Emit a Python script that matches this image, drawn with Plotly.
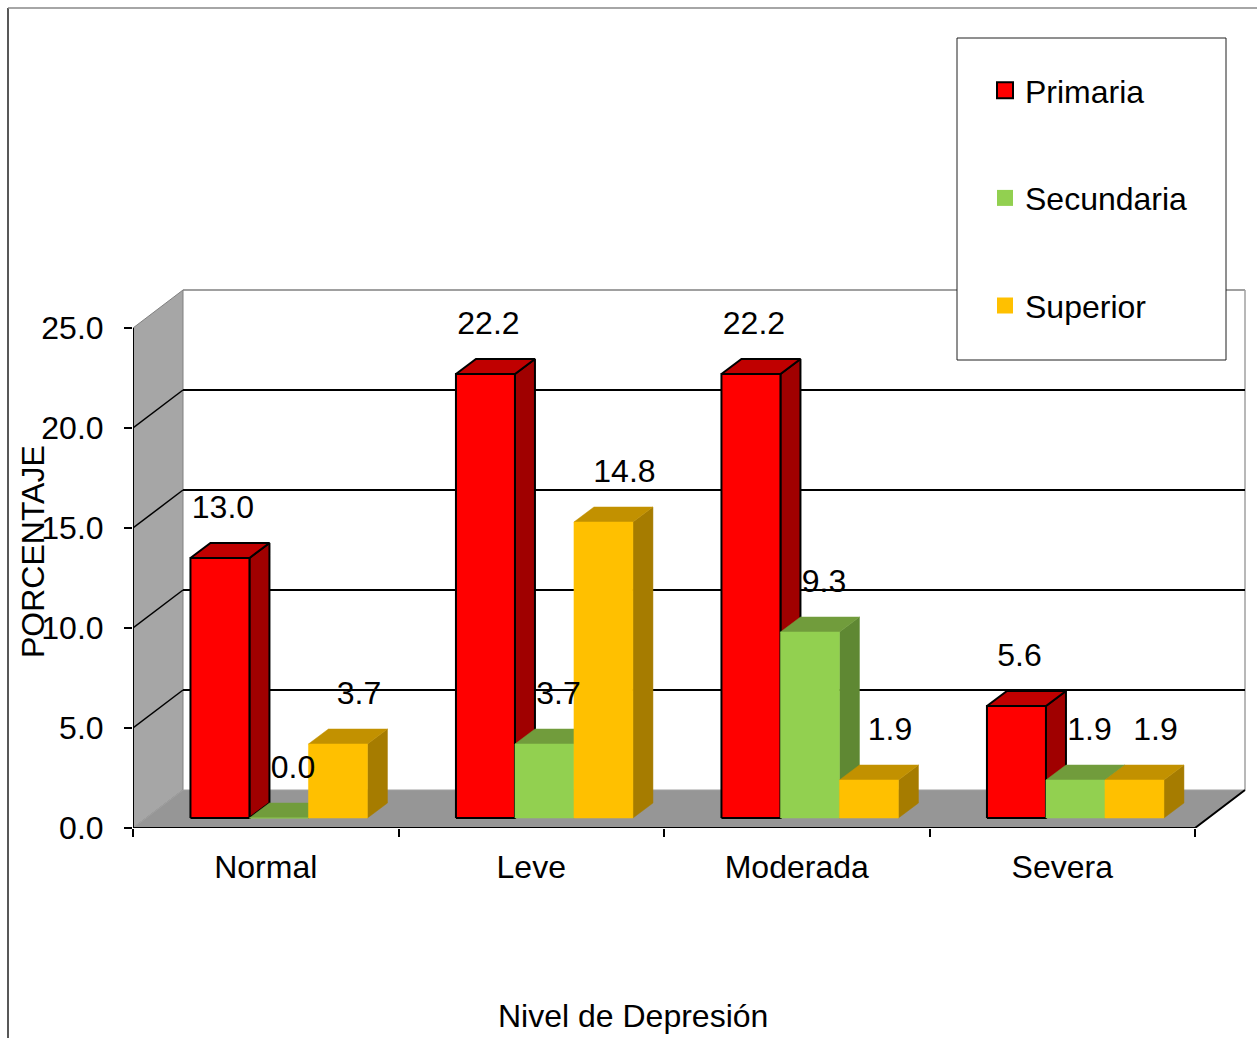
import plotly.graph_objects as go

# ---- data -------------------------------------------------------------
categories = ["Normal", "Leve", "Moderada", "Severa"]
series_names = ["Primaria", "Secundaria", "Superior"]
primaria = [13.0, 22.2, 22.2, 5.6]
secundaria = [0.0, 3.7, 9.3, 1.9]
superior = [3.7, 14.8, 1.9, 1.9]
y_ticks = [0, 5, 10, 15, 20, 25]

values_by_series = [primaria, secundaria, superior]

# ---- styles -----------------------------------------------------------
FONT = "Liberation Sans, Arial, sans-serif"
FS = 32
face_colors = [
    # front, top, side, outline colour, outline width
    ("#FF0000", "#C00000", "#A00000", "#000000", 2.0),
    ("#92D050", "#719C3C", "#5F8833", None, 0.0),
    ("#FFC000", "#C29100", "#A67C00", None, 0.0),
]
label_dx_px = [3, 14, 21]   # horizontal nudge of value labels
label_dy_px = 48            # value labels sit this far above the front top edge

# ---- projection constants (pixels -> axis units) ----------------------
W, H = 1257, 1038
ML, MB = 133, 210
PX_CAT = 265.5      # pixels per category
PX_VAL = 20.0       # pixels per percentage point
plot_w = W - ML
plot_h = H - MB

WALL_DX, WALL_DY = 50 / PX_CAT, 38 / PX_VAL      # depth of the 3-D box
BAR_OX, BAR_OY = 13.2 / PX_CAT, 10 / PX_VAL      # bars sit slightly behind the front plane
BAR_DX, BAR_DY = 20 / PX_CAT, 15 / PX_VAL        # depth of each bar
BAR_W = 59 / PX_CAT
X0, X1 = -0.5, len(categories) - 0.5
YMAX = y_ticks[-1]


def px_x(px):
    return (px - ML) / plot_w


def px_y(py):
    return 1 - py / plot_h


def path(pts):
    return "M " + " L ".join(f"{x:.5f},{y:.5f}" for x, y in pts) + " Z"


fig = go.Figure()

# ---- bars: side, top and front faces of every box ---------------------
for s, vals in enumerate(values_by_series):
    front, top, side = ([], []), ([], []), ([], [])
    for i, v in enumerate(vals):
        left = i + BAR_OX + (s - 1.5) * BAR_W
        right = left + BAR_W
        b, t = BAR_OY, BAR_OY + v
        front[0].extend([left, right, right, left, left, None])
        front[1].extend([b, b, t, t, b, None])
        side[0].extend([right, right + BAR_DX, right + BAR_DX, right, right, None])
        side[1].extend([b, b + BAR_DY, t + BAR_DY, t, b, None])
        top[0].extend([left, right, right + BAR_DX, left + BAR_DX, left, None])
        top[1].extend([t, t, t + BAR_DY, t + BAR_DY, t, None])
    fc, tc, sc, oc, ow = face_colors[s]
    for (xs, ys), col in ((side, sc), (top, tc), (front, fc)):
        fig.add_trace(go.Scatter(
            x=xs, y=ys, mode="lines", fill="toself", fillcolor=col,
            line=dict(color=oc if oc else col, width=ow if ow else 0.5),
            hoverinfo="skip", showlegend=False,
        ))

# ---- value labels -----------------------------------------------------
for s, vals in enumerate(values_by_series):
    fig.add_trace(go.Scatter(
        x=[i + BAR_OX + (s - 1) * BAR_W + label_dx_px[s] / PX_CAT for i in range(len(vals))],
        y=[BAR_OY + v + label_dy_px / PX_VAL for v in vals],
        text=[f"{v:.1f}" for v in vals],
        mode="text", textposition="middle center",
        textfont=dict(family=FONT, size=FS, color="black"),
        hoverinfo="skip", showlegend=False,
    ))

# ---- legend entries ---------------------------------------------------
for s, name in enumerate(series_names):
    fc, tc, sc, oc, ow = face_colors[s]
    fig.add_trace(go.Scatter(
        x=[None], y=[None], mode="markers", name=name, legendgroup=name,
        marker=dict(symbol="square", size=16, color=fc,
                    line=dict(color=oc if oc else fc, width=ow)),
    ))

# ---- 3-D box: walls, floor, grid --------------------------------------
shapes = []
# side wall
shapes.append(dict(type="path", layer="below", xref="x", yref="y",
                   path=path([(X0, 0), (X0 + WALL_DX, WALL_DY), (X0 + WALL_DX, YMAX + WALL_DY), (X0, YMAX)]),
                   fillcolor="#A6A6A6", line=dict(color="#808080", width=1)))
# floor
shapes.append(dict(type="path", layer="below", xref="x", yref="y",
                   path=path([(X0, 0), (X0 + WALL_DX, WALL_DY), (X1 + WALL_DX, WALL_DY), (X1, 0)]),
                   fillcolor="#969696", line=dict(color="#A0A0A0", width=1)))
# back wall outline (top and right edges)
shapes.append(dict(type="line", layer="below", xref="x", yref="y",
                   x0=X0 + WALL_DX, y0=YMAX + WALL_DY, x1=X1 + WALL_DX, y1=YMAX + WALL_DY,
                   line=dict(color="#808080", width=1.5)))
shapes.append(dict(type="line", layer="below", xref="x", yref="y",
                   x0=X1 + WALL_DX, y0=WALL_DY, x1=X1 + WALL_DX, y1=YMAX + WALL_DY,
                   line=dict(color="#A0A0A0", width=1.5)))
# gridlines on back wall and side wall
for v in y_ticks[1:-1]:
    shapes.append(dict(type="line", layer="below", xref="x", yref="y",
                       x0=X0 + WALL_DX, y0=v + WALL_DY, x1=X1 + WALL_DX, y1=v + WALL_DY,
                       line=dict(color="black", width=2)))
    shapes.append(dict(type="line", layer="below", xref="x", yref="y",
                       x0=X0, y0=v, x1=X0 + WALL_DX, y1=v + WALL_DY,
                       line=dict(color="black", width=1.5)))
# value axis line
shapes.append(dict(type="line", layer="below", xref="x", yref="y",
                   x0=X0, y0=0, x1=X0, y1=YMAX, line=dict(color="black", width=2)))
# floor front and right edges
shapes.append(dict(type="path", layer="below", xref="x", yref="y",
                   path=f"M {X0},0 L {X1},0 L {X1 + WALL_DX},{WALL_DY}",
                   line=dict(color="black", width=2)))
# legend box
shapes.append(dict(type="rect", layer="above", xref="paper", yref="paper",
                   x0=px_x(957), x1=px_x(1226), y0=px_y(360), y1=px_y(38),
                   fillcolor="white", line=dict(color="#202020", width=1)))
# chart area border (left and top)
shapes.append(dict(type="line", xref="paper", yref="paper",
                   x0=px_x(8), x1=px_x(8), y0=px_y(8), y1=px_y(H + 20),
                   line=dict(color="#202020", width=1.5)))
shapes.append(dict(type="line", xref="paper", yref="paper",
                   x0=px_x(8), x1=px_x(W + 20), y0=px_y(8), y1=px_y(8),
                   line=dict(color="#888888", width=1.5)))

fig.update_layout(
    width=W, height=H,
    margin=dict(l=ML, r=0, t=0, b=MB, pad=0),
    paper_bgcolor="white", plot_bgcolor="white",
    font=dict(family=FONT, size=FS, color="black"),
    shapes=shapes,
    showlegend=True,
    legend=dict(x=px_x(985), y=px_y(63), xanchor="left", yanchor="top",
                bgcolor="rgba(0,0,0,0)", borderwidth=0,
                font=dict(family=FONT, size=FS, color="black"),
                tracegroupgap=63, itemclick=False, itemdoubleclick=False),
    annotations=[
        dict(text="PORCENTAJE", xref="paper", yref="paper", x=px_x(33), y=px_y(552),
             textangle=-90, showarrow=False, xanchor="center", yanchor="middle",
             font=dict(family=FONT, size=FS, color="black")),
        dict(text="Nivel de Depresión", xref="paper", yref="paper", x=px_x(633), y=px_y(1016),
             showarrow=False, xanchor="center", yanchor="middle",
             font=dict(family=FONT, size=FS, color="black")),
    ],
)

fig.update_xaxes(
    range=[X0, X0 + plot_w / PX_CAT], showgrid=False, zeroline=False, showline=False,
    tickmode="array", tickvals=list(range(len(categories))), ticktext=categories,
    ticks="", ticklabelstandoff=17,
    tickfont=dict(family=FONT, size=FS, color="black"),
    minor=dict(tickmode="array", tickvals=[X0 + k for k in range(len(categories) + 1)],
               ticks="outside", ticklen=8, tickwidth=1.5, tickcolor="black", showgrid=False),
)
fig.update_yaxes(
    range=[0, plot_h / PX_VAL], showgrid=False, zeroline=False, showline=False,
    tickmode="array", tickvals=y_ticks, ticktext=[f"{v:.1f}" for v in y_ticks],
    ticks="outside", ticklen=8, tickwidth=1.5, tickcolor="black", ticklabelstandoff=14,
    tickfont=dict(family=FONT, size=FS, color="black"),
)

fig.write_html("out.html")
